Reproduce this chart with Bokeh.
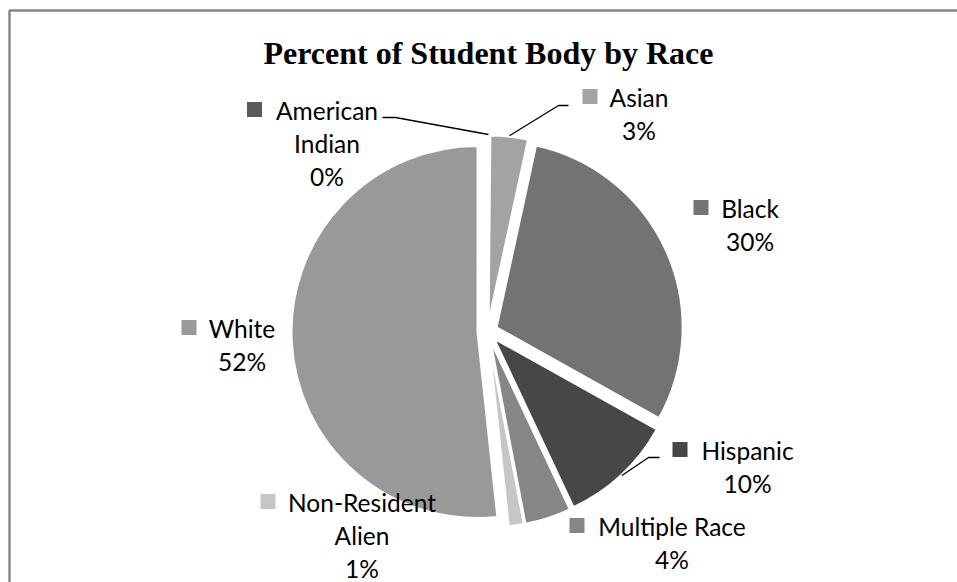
import math
from bokeh.plotting import figure
from bokeh.models import Range1d, ColumnDataSource
from bokeh.core.properties import value
from bokeh.embed import file_html
from bokeh.resources import INLINE

# ---------------- data ----------------
categories = ["American Indian", "Asian", "Black", "Hispanic",
              "Multiple Race", "Non-Resident Alien", "White"]
percents = [0.15, 3.25, 29.7, 9.9, 4.0, 1.3, 51.7]
label_names = [["American", "Indian"], ["Asian"], ["Black"], ["Hispanic"],
               ["Multiple Race"], ["Non-Resident", "Alien"], ["White"]]
title_text = "Percent of Student Body by Race"

# ---------------- style / layout ----------------
colors = ["#5a5a5a", "#a3a3a3", "#737373", "#474747", "#868686", "#c6c6c6", "#999999"]
W, H = 957, 582
CX, CY = 487, 331          # pie centre (screen px)
R = 186                    # radius
D = 10                     # explosion offset
LINE_STEP = 33
LABEL_FONT = "Lato"
LABEL_SIZE = "24.5px"

# label block: (centre x of text, y of first line, marker centre x) in screen px
label_layout = {
    "American Indian": (326.5, 110, 254),
    "Asian": (638.5, 97, 589.5),
    "Black": (749.5, 208, 700.5),
    "Hispanic": (747, 450, 679.5),
    "Multiple Race": (671.5, 526, 576.5),
    "Non-Resident Alien": (361.5, 502, 267.5),
    "White": (241.5, 328, 188.5),
}
# leader lines: elbow point and end point (screen px)
leader_layout = {
    "American Indian": [(395, 117), (382, 117)],
    "Asian": [(558, 105), (568, 105)],
    "Hispanic": [(648, 457), (659, 457)],
}


def sy(y):
    return H - y


p = figure(width=W, height=H, x_range=Range1d(0, W), y_range=Range1d(0, H),
           output_backend="svg", toolbar_location=None, min_border=0,
           x_axis_location=None, y_axis_location=None)
p.outline_line_color = None
p.grid.grid_line_color = None
p.background_fill_color = "white"
p.border_fill_color = "white"

# chart border (clipped at right / bottom as in the reference)
p.line(x=[9, 9, W + 10], y=[sy(H + 10), sy(10), sy(10)],
       line_color="#878787", line_width=2.5)

# title
p.text(x=[488], y=[sy(52)], text=[title_text],
       text_font=value("Liberation Serif"), text_font_style="bold",
       text_font_size="32px", text_align="center", text_baseline="middle",
       text_color="black")

# wedges
total = float(sum(percents))
wx, wy, ws, we, mids = [], [], [], [], []
cum = 0.0
for v in percents:
    t0 = cum / total * 2 * math.pi
    t1 = (cum + v) / total * 2 * math.pi
    mid = (t0 + t1) / 2
    mids.append(mid)
    wx.append(CX + D * math.sin(mid))
    wy.append(sy(CY) + D * math.cos(mid))
    ws.append(math.pi / 2 - t0)
    we.append(math.pi / 2 - t1)
    cum += v

src = ColumnDataSource(dict(x=wx, y=wy, start=ws, end=we, color=colors, cat=categories))
p.wedge(x="x", y="y", radius=R, start_angle="start", end_angle="end",
        direction="clock", fill_color="color", line_color="white",
        line_width=2, source=src)

# leader lines
for i, cat in enumerate(categories):
    if cat not in leader_layout:
        continue
    mid = mids[i]
    px = wx[i] + (R + 1) * math.sin(mid)
    py = wy[i] + (R + 1) * math.cos(mid)
    pts = leader_layout[cat]
    p.line(x=[px] + [q[0] for q in pts], y=[py] + [sy(q[1]) for q in pts],
           line_color="black", line_width=1.3)

# labels
tx, ty, tt = [], [], []
mx, my, mc = [], [], []
for i, cat in enumerate(categories):
    cx, y0, mkx = label_layout[cat]
    lines = label_names[i] + ["%d%%" % round(percents[i])]
    for k, s in enumerate(lines):
        tx.append(cx)
        ty.append(sy(y0 + k * LINE_STEP))
        tt.append(s)
    mx.append(mkx)
    my.append(sy(y0 - 1))
    mc.append(colors[i])

p.text(x=tx, y=ty, text=tt, text_font=value(LABEL_FONT), text_font_size=LABEL_SIZE,
       text_align="center", text_baseline="middle", text_color="black")
p.rect(x=mx, y=my, width=15, height=15, fill_color=mc, line_color=None)

open("out.html", "w").write(file_html(p, INLINE))
